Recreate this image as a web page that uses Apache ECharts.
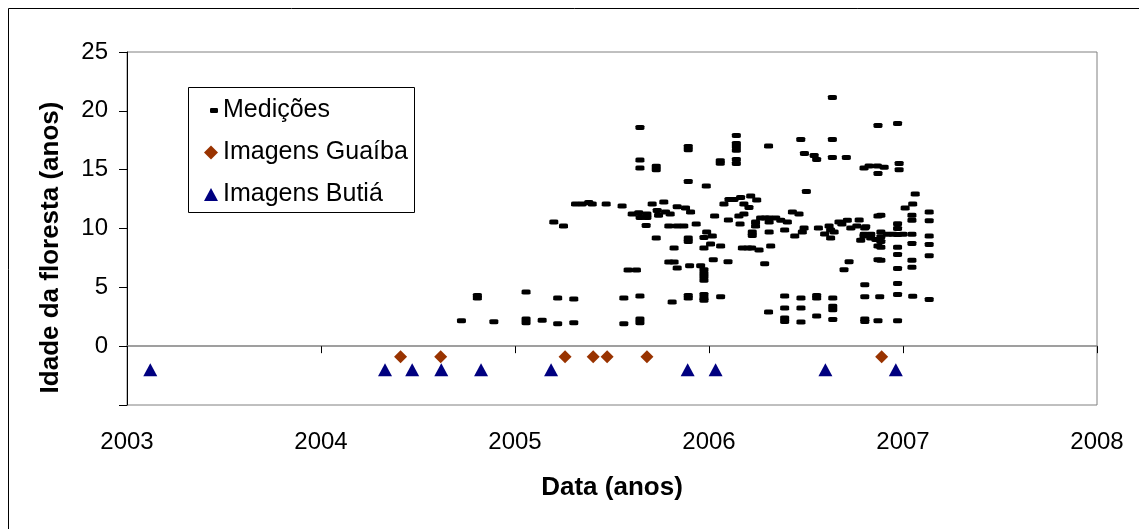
<!DOCTYPE html>
<html>
  <head>
    <meta charset='UTF-8'>
    <title>Idade da floresta</title>
    <script src="https://cdn.jsdelivr.net/npm/echarts@6/dist/echarts.min.js"></script>
    <style>
      body { margin: 0; background: #fff; }
    </style>
  </head>
  <body>
    <div id="chart" style="width: 1139px; height: 529px;"></div>
    <script type="text/javascript">
      // data: [data (ano decimal), idade (anos)]
      var medicoes = [
        [2004.724, 2.16], [2004.806, 4.1], [2004.806, 4.3], [2004.891, 2.07],
        [2005.057, 4.61], [2005.057, 2.0], [2005.057, 2.3], [2005.14, 2.2],
        [2005.22, 4.1], [2005.22, 1.9], [2005.303, 4.0], [2005.303, 2.0],
        [2005.20, 10.56], [2005.25, 10.22],
        [2005.561, 4.1], [2005.561, 1.9], [2005.644, 4.27], [2005.644, 2.0], [2005.644, 2.3],
        [2005.583, 6.48], [2005.626, 6.48],
        [2005.793, 7.16], [2005.82, 7.16], [2005.82, 8.35], [2005.728, 9.2], [2005.676, 10.25],
        [2005.81, 3.76], [2005.836, 6.65], [2005.793, 10.22], [2005.836, 10.22],
        [2005.644, 18.58], [2005.644, 15.83], [2005.644, 15.15], [2005.728, 15.3], [2005.728, 15.0],
        [2005.312, 12.09], [2005.346, 12.09], [2005.38, 12.2], [2005.398, 12.09],
        [2005.47, 12.09], [2005.552, 11.92], [2005.707, 12.09], [2005.767, 12.26], [2005.836, 11.84],
        [2005.604, 11.24], [2005.638, 11.33], [2005.645, 10.93], [2005.68, 10.93], [2005.68, 11.24],
        [2005.733, 11.53], [2005.74, 11.13], [2005.776, 11.41], [2005.80, 11.24],
        [2005.893, 16.96], [2005.893, 16.7], [2005.893, 13.99], [2005.986, 13.62],
        [2006.058, 15.75], [2006.058, 15.55],
        [2006.141, 17.9], [2006.141, 17.22], [2006.141, 16.94], [2006.141, 16.65],
        [2006.141, 15.86], [2006.141, 15.52],
        [2006.307, 17.02], [2006.473, 17.56], [2006.492, 16.37], [2006.542, 16.2], [2006.555, 15.86],
        [2006.636, 21.13], [2006.636, 17.56], [2006.636, 16.03], [2006.708, 16.03],
        [2006.799, 15.15], [2006.825, 15.32], [2006.868, 15.32], [2006.903, 15.2],
        [2006.871, 18.75], [2006.871, 14.67], [2006.502, 13.14],
        [2005.879, 11.75], [2005.905, 11.41], [2005.87, 10.22], [2005.934, 10.39],
        [2005.893, 9.2], [2005.893, 8.9], [2005.974, 9.23], [2005.988, 9.71], [2006.017, 9.37],
        [2005.974, 8.35], [2006.008, 8.69], [2006.06, 8.52], [2006.029, 11.07],
        [2006.077, 12.09], [2006.103, 12.46], [2006.129, 12.46], [2006.163, 12.63],
        [2006.215, 12.77], [2006.246, 12.43],
        [2006.18, 12.09], [2006.206, 11.78], [2006.10, 10.73], [2006.154, 11.07],
        [2006.18, 11.24], [2006.16, 10.39],
        [2006.022, 7.34], [2006.098, 7.17], [2005.9, 6.83], [2005.957, 6.83],
        [2006.172, 8.35], [2006.2, 8.35], [2006.22, 8.35], [2006.258, 8.18],
        [2006.223, 9.71], [2006.223, 9.4], [2006.24, 10.56], [2006.24, 10.22],
        [2006.266, 10.9], [2006.29, 10.9], [2006.31, 10.9], [2006.31, 10.56], [2006.31, 9.71],
        [2006.344, 10.9], [2006.37, 10.7], [2006.39, 9.88], [2006.404, 10.56],
        [2006.43, 11.41], [2006.464, 11.24], [2006.442, 9.37], [2006.318, 8.52], [2006.287, 7.0],
        [2006.49, 10.05], [2006.481, 9.71], [2006.564, 10.05], [2006.596, 9.54],
        [2006.619, 10.22], [2006.627, 9.88], [2006.627, 9.2], [2006.645, 9.71],
        [2006.67, 10.56], [2006.713, 10.7], [2006.685, 10.39],
        [2006.731, 10.05], [2006.762, 10.22], [2006.803, 10.05], [2006.774, 10.73],
        [2006.782, 9.0], [2006.799, 9.37], [2006.834, 9.2], [2006.86, 9.06],
        [2006.871, 11.07], [2006.871, 8.52], [2006.871, 7.34],
        [2006.722, 7.17], [2006.696, 6.49],
        [2005.893, 4.1], [2005.893, 4.3],
        [2005.974, 6.5], [2005.974, 6.2], [2005.974, 5.9], [2005.974, 5.6],
        [2005.974, 4.4], [2005.974, 4.1], [2005.974, 3.9], [2006.06, 4.19],
        [2006.39, 4.27], [2006.39, 3.25], [2006.39, 2.4], [2006.39, 2.1], [2006.307, 2.91],
        [2006.474, 4.1], [2006.474, 3.25], [2006.474, 2.06],
        [2006.555, 4.1], [2006.555, 4.3], [2006.555, 2.57],
        [2006.638, 4.1], [2006.638, 3.4], [2006.638, 3.1], [2006.638, 2.26],
        [2006.803, 5.23], [2006.803, 4.19], [2006.803, 2.3], [2006.803, 2.1],
        [2006.88, 4.19], [2006.871, 2.15],
        [2006.972, 18.92], [2006.98, 15.52], [2006.98, 15.0],
        [2007.063, 12.94], [2007.05, 12.09], [2007.011, 11.75], [2007.046, 11.13], [2007.046, 10.7],
        [2007.135, 11.41], [2007.135, 10.65], [2007.135, 9.37], [2007.135, 8.64], [2007.135, 7.68],
        [2007.046, 9.51], [2007.046, 8.72], [2007.046, 7.3], [2007.046, 6.7],
        [2006.972, 10.4], [2006.972, 10.0], [2006.972, 9.5], [2006.972, 8.4], [2006.972, 7.8], [2006.972, 6.6],
        [2006.886, 11.13], [2006.886, 9.7], [2006.886, 9.3], [2006.886, 8.9], [2006.886, 8.4], [2006.886, 7.3],
        [2006.808, 10.14], [2006.8, 9.51],
        [2006.834, 9.51], [2006.92, 9.51], [2006.95, 9.51], [2007.0, 9.51],
        [2006.972, 5.32], [2006.972, 4.4], [2006.972, 2.15], [2007.05, 4.24], [2007.135, 3.96]
      ];
      var guaibaDates = [2004.41, 2004.617, 2005.258, 2005.403, 2005.475, 2005.68, 2006.89];
      var guaibaY = -0.9;
      var butiaDates = [2003.12, 2004.33, 2004.47, 2004.62, 2004.825, 2005.186, 2005.89, 2006.034, 2006.60, 2006.963];
      var butiaY = -2;
      var yearTicks = [2003, 2008];   // min / max of the date axis
      var ageTicks = [-5, 25];        // min / max of the age axis

      var chart = echarts.init(document.getElementById('chart'));
      var font = 'Liberation Sans, Arial, sans-serif';

      var option = {
        animation: false,
        backgroundColor: '#fff',
        textStyle: { fontFamily: font, color: '#000' },
        grid: {
          left: 127, right: 42, top: 52, bottom: 124,
          show: true, borderColor: '#808080', borderWidth: 1, backgroundColor: '#fff'
        },
        graphic: [
          { type: 'rect', z: 0, shape: { x: 8.5, y: 8.5, width: 1300, height: 700 },
            style: { fill: 'none', stroke: '#000', lineWidth: 1 } },
          { type: 'rect', z: 3, shape: { x: 188.5, y: 87.5, width: 226, height: 125 },
            style: { fill: '#fff', stroke: '#000', lineWidth: 1 } }
        ],
        legend: [
          { data: [{ name: 'Medições', icon: 'roundRect' }], left: 205, top: 93,
            itemWidth: 8, itemHeight: 5, selectedMode: false,
            itemStyle: { opacity: 1 },
            textStyle: { fontSize: 25, fontFamily: font, color: '#000' } },
          { data: [{ name: 'Imagens Guaíba', icon: 'diamond' }], left: 199, top: 135,
            itemWidth: 14, itemHeight: 14, selectedMode: false,
            itemStyle: { opacity: 1 },
            textStyle: { fontSize: 25, fontFamily: font, color: '#000' } },
          { data: [{ name: 'Imagens Butiá', icon: 'triangle' }], left: 199, top: 177,
            itemWidth: 14, itemHeight: 13, selectedMode: false,
            itemStyle: { opacity: 1 },
            textStyle: { fontSize: 25, fontFamily: font, color: '#000' } }
        ],
        xAxis: [
          {
            type: 'value', min: yearTicks[0], max: yearTicks[1], interval: 1,
            position: 'bottom',
            axisLine: { show: false, onZero: false },
            axisTick: { show: false },
            splitLine: { show: false },
            axisLabel: { fontSize: 24, fontFamily: font, color: '#000', margin: 25,
                         formatter: function (v) { return String(v); } },
            name: 'Data (anos)', nameLocation: 'middle', nameGap: 70,
            nameTextStyle: { fontSize: 26, fontWeight: 'bold', fontFamily: font, color: '#000' }
          },
          {
            // linha do zero com marcas dos anos
            type: 'value', min: yearTicks[0], max: yearTicks[1], interval: 1,
            position: 'bottom',
            axisLine: { show: true, onZero: true, lineStyle: { color: '#808080', width: 1.5 } },
            axisTick: { show: true, length: 7, lineStyle: { color: '#000' } },
            axisLabel: { show: false },
            splitLine: { show: false }
          }
        ],
        yAxis: {
          type: 'value', min: ageTicks[0], max: ageTicks[1], interval: 5,
          axisLine: { show: true, onZero: false, lineStyle: { color: '#000' } },
          axisTick: { show: true, length: 8, lineStyle: { color: '#000' } },
          splitLine: { show: false },
          axisLabel: {
            fontSize: 24, fontFamily: font, color: '#000', margin: 19,
            formatter: function (v) { return v < 0 ? '' : v; }
          },
          name: 'Idade da floresta (anos)', nameLocation: 'middle', nameGap: 63,
          nameTextStyle: { fontSize: 26, fontWeight: 'bold', fontFamily: font, color: '#000',
                           padding: [0, 38, 0, 0] }
        },
        series: [
          {
            name: 'Medições', type: 'scatter', xAxisIndex: 0,
            symbol: 'roundRect', symbolSize: [9, 5],
            itemStyle: { color: '#000', opacity: 1 },
            data: medicoes
          },
          {
            name: 'Imagens Guaíba', type: 'scatter', xAxisIndex: 0,
            symbol: 'diamond', symbolSize: [13, 13],
            itemStyle: { color: '#993300', opacity: 1 },
            data: guaibaDates.map(function (d) { return [d, guaibaY]; })
          },
          {
            name: 'Imagens Butiá', type: 'scatter', xAxisIndex: 0,
            symbol: 'triangle', symbolSize: [14, 13],
            itemStyle: { color: '#000080', opacity: 1 },
            data: butiaDates.map(function (d) { return [d, butiaY]; })
          }
        ]
      };
      chart.setOption(option);
    </script>
  </body>
</html>
